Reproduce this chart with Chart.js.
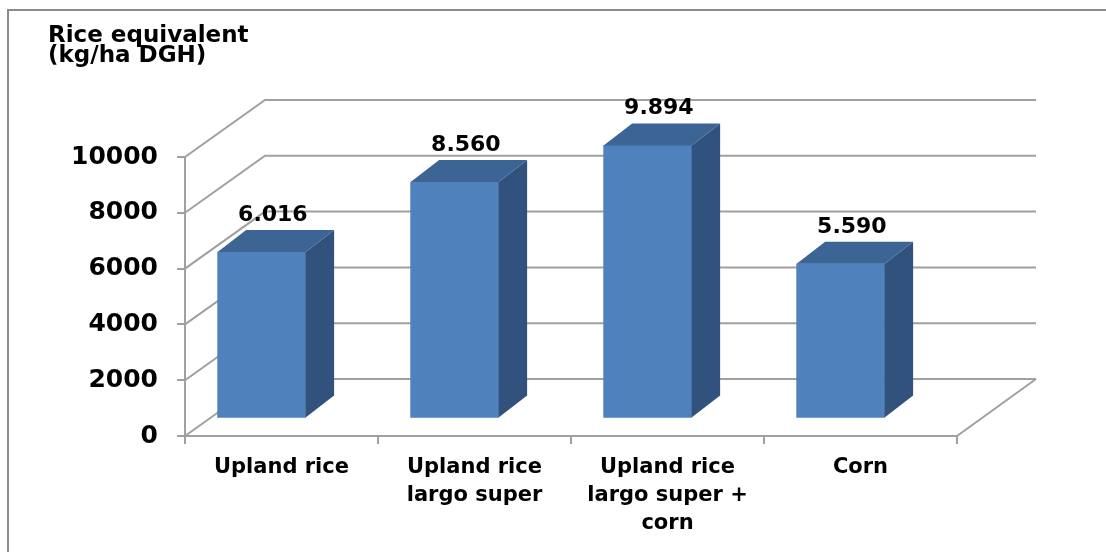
<!DOCTYPE html>
<html>
<head>
<meta charset="utf-8">
<script src="https://cdn.jsdelivr.net/npm/chart.js@4/dist/chart.umd.min.js"></script>
<style>
  html, body { margin: 0; padding: 0; background: #ffffff; overflow: hidden; }
  #wrap { width: 1106px; height: 552px; }
  canvas { display: block; }
</style>
</head>
<body>
<div id="wrap"><canvas id="c" width="1106" height="552"></canvas></div>
<script>
// ---- data ----
const categories = [
  ['Upland rice'],
  ['Upland rice', 'largo super'],
  ['Upland rice', 'largo super +', 'corn'],
  ['Corn']
];
const riceEquivalent = [6016, 8560, 9894, 5590];
const yTicks = [0, 2000, 4000, 6000, 8000, 10000];
const titleLines = ['Rice equivalent', '(kg/ha DGH)'];

// ---- style ----
const FONT = "'DejaVu Sans', Verdana, sans-serif";
const GRID = '#a0a0a0';
const FRONT = '#4f81bd', TOP = '#3c6494', SIDE = '#32527e';
const WALL_DX = 80, WALL_DY = -57;   // depth of the 3D walls
const BAR_DX = 28.5, BAR_DY = -22;   // depth of each bar

function fmt(v) {
  const s = String(Math.round(v));
  return s.length > 3 ? s.slice(0, -3) + '.' + s.slice(-3) : s;
}

const frame3d = {
  id: 'frame3d',
  beforeDraw(chart) {
    const ctx = chart.ctx;
    ctx.save();
    ctx.fillStyle = '#ffffff';
    ctx.fillRect(0, 0, chart.width, chart.height);
    ctx.strokeStyle = '#8c8c8c';
    ctx.lineWidth = 2;
    ctx.beginPath();
    ctx.moveTo(8, chart.height + 5);
    ctx.lineTo(8, 10);
    ctx.lineTo(chart.width + 5, 10);
    ctx.stroke();
    ctx.restore();
  },
  beforeDatasetsDraw(chart) {
    const ctx = chart.ctx;
    const y = chart.scales.y, ca = chart.chartArea;
    ctx.save();
    ctx.strokeStyle = GRID;
    ctx.lineWidth = 2;
    ctx.beginPath();
    yTicks.forEach(v => {
      const py = y.getPixelForValue(v);
      ctx.moveTo(ca.left, py);
      ctx.lineTo(ca.left + WALL_DX, py + WALL_DY);
      ctx.lineTo(ca.right + WALL_DX - 1, py + WALL_DY);
    });
    ctx.moveTo(ca.right, ca.bottom);
    ctx.lineTo(ca.right + WALL_DX - 1, ca.bottom + WALL_DY);
    ctx.stroke();
    ctx.restore();
  },
  afterDatasetsDraw(chart) {
    const ctx = chart.ctx;
    const meta = chart.getDatasetMeta(0);
    ctx.save();
    meta.data.forEach((bar, i) => {
      const l = bar.x - bar.width / 2, r = bar.x + bar.width / 2;
      const t = bar.y, b = bar.base;
      // side face
      ctx.fillStyle = SIDE;
      ctx.beginPath();
      ctx.moveTo(r, t);
      ctx.lineTo(r + BAR_DX, t + BAR_DY);
      ctx.lineTo(r + BAR_DX, b + BAR_DY);
      ctx.lineTo(r, b);
      ctx.closePath();
      ctx.fill();
      // top face
      ctx.fillStyle = TOP;
      ctx.beginPath();
      ctx.moveTo(l, t);
      ctx.lineTo(l + BAR_DX, t + BAR_DY);
      ctx.lineTo(r + BAR_DX, t + BAR_DY);
      ctx.lineTo(r, t);
      ctx.closePath();
      ctx.fill();
      // value label
      ctx.fillStyle = '#000000';
      ctx.font = "bold 22px " + FONT;
      ctx.textAlign = 'center';
      ctx.textBaseline = 'alphabetic';
      ctx.fillText(fmt(riceEquivalent[i]), bar.x + BAR_DX / 2 - 3, t + BAR_DY - 9);
    });
    ctx.restore();
  }
};

new Chart(document.getElementById('c'), {
  type: 'bar',
  data: {
    labels: categories,
    datasets: [{
      data: riceEquivalent.map((v, i) => ({ x: i, y: v })),
      xAxisID: 'xb',
      yAxisID: 'yb',
      backgroundColor: FRONT,
      borderWidth: 0,
      barThickness: 88,
      clip: false
    }]
  },
  options: {
    responsive: false,
    animation: false,
    layout: { padding: { top: 14, left: 48, right: 149, bottom: 0 } },
    plugins: {
      legend: { display: false },
      tooltip: { enabled: false },
      title: {
        display: true,
        text: titleLines,
        align: 'start',
        color: '#000000',
        font: { family: FONT, size: 23, weight: 'bold', lineHeight: '20px' },
        padding: { top: 12, bottom: 91 }
      }
    },
    scales: {
      x: {
        type: 'category',
        position: 'bottom',
        offset: true,
        grid: { offset: true, drawOnChartArea: false, drawTicks: true, tickLength: 8, color: GRID, lineWidth: 2 },
        border: { display: true, color: GRID, width: 2 },
        ticks: {
          color: '#000000',
          padding: 10,
          maxRotation: 0,
          autoSkip: false,
          font: { family: FONT, size: 21, weight: 'bold', lineHeight: '28px' }
        },
        afterFit(s) { s.height = 116; }
      },
      y: {
        type: 'linear',
        position: 'left',
        min: 0,
        max: 10000,
        afterBuildTicks(s) { s.ticks = yTicks.map(v => ({ value: v })); },
        grid: { drawOnChartArea: false, drawTicks: true, tickLength: 8, color: GRID, lineWidth: 2 },
        border: { display: true, color: GRID, width: 2 },
        ticks: {
          color: '#000000',
          padding: 19,
          font: { family: FONT, size: 25, weight: 'bold' },
          callback: v => String(v)
        },
        afterFit(s) { s.width = 137; }
      },
      xb: {
        type: 'linear',
        display: false,
        offset: false,
        min: -0.397,
        max: 3.603
      },
      yb: {
        type: 'linear',
        display: false,
        min: -673,
        max: 9473
      }
    }
  },
  plugins: [frame3d]
});
</script>
</body>
</html>
